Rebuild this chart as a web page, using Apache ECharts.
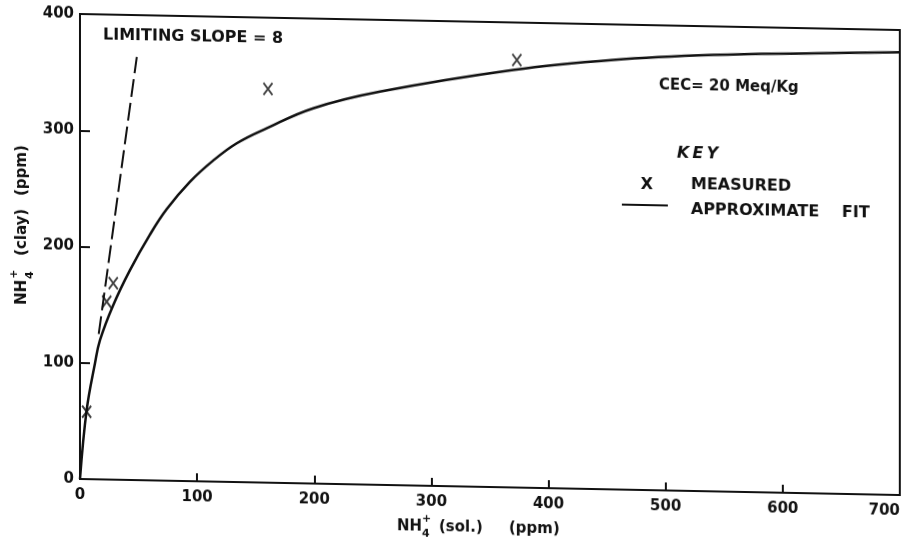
<!DOCTYPE html>
<html>
<head>
<meta charset="utf-8">
<script src="https://cdn.jsdelivr.net/npm/echarts@6/dist/echarts.min.js"></script>
<style>
html,body{margin:0;padding:0;background:#fff;}
#chart{width:905px;height:543px;transform:skewY(1.12deg);transform-origin:80px 0;}
</style>
</head>
<body>
<div id="chart"></div>
<script>
// Approximate fit curve
const fitX = [0, 5.7, 12.8, 17.1, 28.4, 42.7, 59.8, 74, 93.9, 113.8, 133.8, 159.4, 199.2, 256.1, 369.9, 455.3, 540.6, 626, 700];
const fitY = [0, 59.5, 99.8, 119.9, 150.2, 180.6, 211.5, 233.5, 257.5, 276.2, 291.4, 304.8, 322.8, 338.2, 359.1, 369.4, 375.4, 378.5, 380.8];
// Measured points
const measX = [5.7, 22.8, 28.4, 160.5, 373];
const measY = [58, 153, 169, 338.7, 367.7];
// Limiting slope line (dashed)
const slopeX = [16, 48.5];
const slopeY = [125, 364];
// Axis ticks
const xTicks = [0, 100, 200, 300, 400, 500, 600, 700];
const yTicks = [0, 100, 200, 300, 400];

const INK = '#111';
const FONT = 'DejaVu Sans';
const chart = echarts.init(document.getElementById('chart'), null, {renderer: 'canvas'});

function txt(text, x, y, opt) {
  return {type: 'text', x: x, y: y, style: Object.assign({
    text: text, fill: INK, font: 'bold 16px "' + FONT + '"', textVerticalAlign: 'middle', textAlign: 'left'
  }, opt || {})};
}
const F15 = 'bold 15px "' + FONT + '"';
const F11 = 'bold 11px "' + FONT + '"';

const option = {
  backgroundColor: '#fff',
  animation: false,
  grid: {left: 80, right: 5, top: 14, bottom: 64, show: true, borderColor: INK, borderWidth: 2, backgroundColor: 'transparent'},
  xAxis: {
    type: 'value', min: xTicks[0], max: xTicks[xTicks.length - 1], interval: 100,
    axisLine: {show: true, lineStyle: {color: INK, width: 2}},
    axisTick: {show: true, inside: true, length: 8, lineStyle: {color: INK, width: 2}},
    axisLabel: {color: INK, fontFamily: FONT, fontWeight: 'bold', fontSize: 15, margin: 9, alignMaxLabel: 'right'},
    splitLine: {show: false}
  },
  yAxis: {
    type: 'value', min: yTicks[0], max: yTicks[yTicks.length - 1], interval: 100,
    axisLine: {show: true, lineStyle: {color: INK, width: 2}},
    axisTick: {show: true, inside: true, length: 10, lineStyle: {color: INK, width: 2}},
    axisLabel: {color: INK, fontFamily: FONT, fontWeight: 'bold', fontSize: 15, margin: 6},
    splitLine: {show: false}
  },
  series: [
    {
      type: 'line', name: 'APPROXIMATE FIT', data: fitX.map((x, i) => [x, fitY[i]]),
      smooth: 0.4, showSymbol: false, lineStyle: {color: INK, width: 2.5}, z: 3
    },
    {
      type: 'line', name: 'LIMITING SLOPE', data: slopeX.map((x, i) => [x, slopeY[i]]),
      showSymbol: false, lineStyle: {color: INK, width: 2, type: [18, 6]}, z: 3
    },
    {
      type: 'scatter', name: 'MEASURED', data: measX.map((x, i) => [x, measY[i]]),
      symbol: 'path://M0,0L10,13M10,0L0,13', symbolSize: [9, 12],
      itemStyle: {color: 'none', borderColor: INK, borderWidth: 2}, z: 4
    }
  ],
  graphic: [
    txt('LIMITING SLOPE = 8', 103, 34.5),
    txt('CEC= 20 Meq/Kg', 659, 74, {font: F15}),
    txt('K\u2009E\u2009Y', 677, 141.5, {font: 'italic bold 16px "' + FONT + '"'}),
    txt('X', 647, 174, {textAlign: 'center'}),
    txt('MEASURED', 691, 173),
    {type: 'line', shape: {x1: 622, y1: 194, x2: 668, y2: 194}, style: {stroke: INK, lineWidth: 2}},
    txt('APPROXIMATE', 691, 198),
    txt('FIT', 842, 198),
    // x axis name
    txt('NH', 397, 520, {font: F15}),
    txt('+', 422, 512, {font: F11}),
    txt('4', 422, 527, {font: F11}),
    txt('(sol.)', 439, 520, {font: F15}),
    txt('(ppm)', 509, 520, {font: F15}),
    // y axis name (rotated)
    {
      type: 'group', x: 22, y: 224, rotation: Math.PI / 2,
      children: [
        txt('NH', -82, 0, {font: F15}),
        txt('+', -56, -8, {font: F11}),
        txt('4', -56, 8, {font: F11}),
        txt('(clay)', -33, 0, {font: F15}),
        txt('(ppm)', 27, 0, {font: F15})
      ]
    }
  ]
};
chart.setOption(option);
</script>
</body>
</html>
